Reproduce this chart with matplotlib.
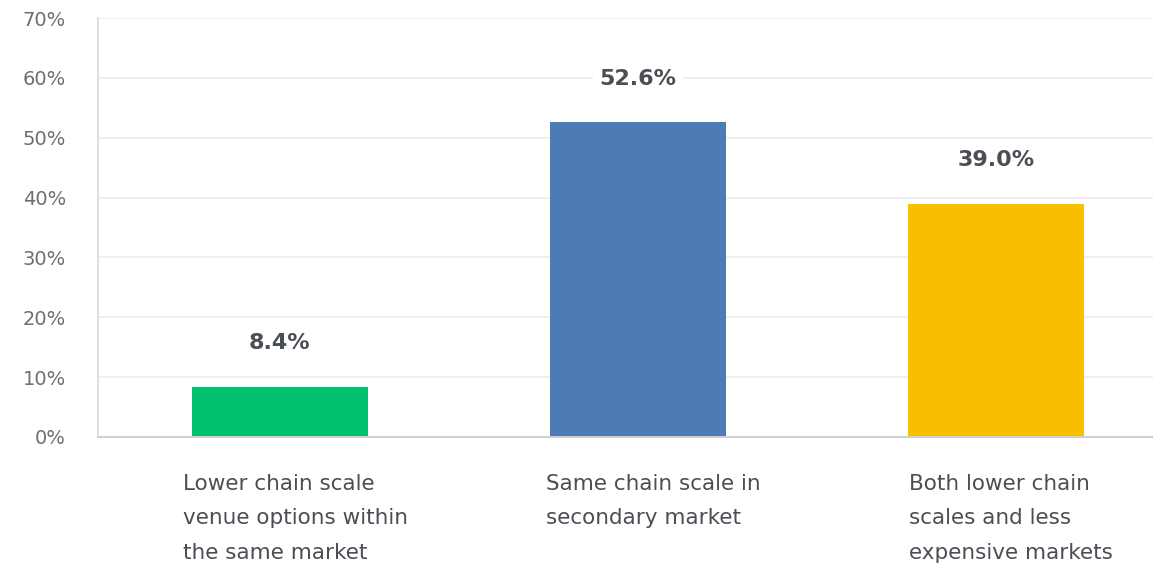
import matplotlib
matplotlib.use("Agg")
import matplotlib.pyplot as plt
from matplotlib.ticker import FuncFormatter

categories = ["Lower chain scale\nvenue options within\nthe same market",
              "Same chain scale in\nsecondary market",
              "Both lower chain\nscales and less\nexpensive markets"]
values = [8.4, 52.6, 39.0]
colors = ["#00BF6F", "#4C7BB5", "#F8BE00"]
yticks = [0, 10, 20, 30, 40, 50, 60, 70]

W, H = 1153, 564
fig = plt.figure(figsize=(W / 100, H / 100), dpi=100)
ax = fig.add_axes([98 / W, 1 - 437 / H, 1074 / W, 419 / H])

x = list(range(len(categories)))
ax.bar(x, values, width=0.49, color=colors, zorder=2)
ax.set_xlim(-0.508, 2.492)
ax.set_ylim(0, 70)
ax.set_yticks(yticks)
ax.yaxis.set_major_formatter(FuncFormatter(lambda v, p: f"{v:.0f}%"))
ax.grid(axis="y", color="#ececec", linewidth=1.2, zorder=0)
for s in ["top", "right"]:
    ax.spines[s].set_visible(False)
ax.spines["left"].set_color("#d9d9d9")
ax.spines["bottom"].set_color("#cfcfcf")
ax.spines["left"].set_linewidth(1.2)
ax.spines["bottom"].set_linewidth(1.5)
ax.tick_params(axis="y", length=0, pad=23, labelsize=14, labelcolor="#6b6f73")
ax.tick_params(axis="x", length=0)
ax.set_xticks(x)
ax.set_xticklabels([])

for xi, v in zip(x, values):
    ax.annotate(f"{v:.1f}%", (xi, v), xytext=(0, 31.3), textcoords="offset points",
                ha="center", va="center", fontsize=16, fontweight="bold",
                color="#4a4f55", zorder=3,
                bbox=dict(boxstyle="square,pad=0.3", fc="white", ec="none"))
    ax.annotate(categories[xi], (xi, 0), xytext=(11, -26.5), textcoords="offset points",
                ha="center", va="top", multialignment="left", fontsize=15.5,
                color="#4a4f55", linespacing=1.9)

fig.savefig("out.png", dpi=100)
